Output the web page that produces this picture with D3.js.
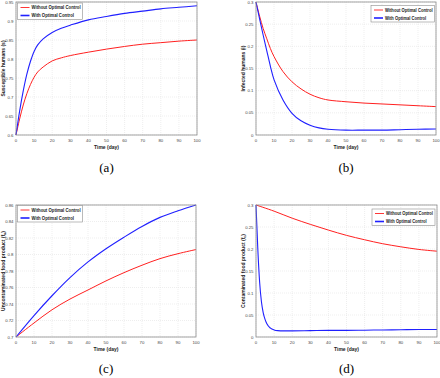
<!DOCTYPE html>
<html>
<head>
<meta charset="utf-8">
<script src="https://cdnjs.cloudflare.com/ajax/libs/d3/7.8.5/d3.min.js"></script>
<style>
  html, body { margin: 0; background: #fff; }
  svg { display: block; }
  .tick-label { font-family: "Liberation Sans", Arial, sans-serif; font-size: 4.3px; fill: #444; }
  .axis-label { font-family: "Liberation Sans", Arial, sans-serif; font-size: 5px; font-weight: bold; fill: #222; }
  .legend-text { font-family: "Liberation Sans", Arial, sans-serif; font-size: 5.2px; font-weight: bold; fill: #222; }
  .caption { font-family: "Liberation Serif", "Times New Roman", serif; font-size: 13px; fill: #000; }
</style>
</head>
<body>
<svg id="chart" width="440" height="378"></svg>
<script>
// --- data ---
var timeA = [0, 2, 4, 6, 8, 10, 12, 15, 20, 25, 30, 40, 50, 60, 70, 80, 90, 100];
var sNoCtrl = [0.6, 0.642, 0.679, 0.709, 0.733, 0.752, 0.766, 0.779, 0.795, 0.803, 0.809, 0.818, 0.826, 0.833, 0.839, 0.843, 0.847, 0.85];
var sCtrl   = [0.6, 0.663, 0.716, 0.76, 0.794, 0.82, 0.837, 0.853, 0.87, 0.881, 0.889, 0.903, 0.912, 0.92, 0.926, 0.932, 0.936, 0.94];

var timeB = [0, 2, 4, 6, 8, 10, 15, 20, 25, 30, 35, 40, 50, 60, 70, 80, 90, 100];
var iNoCtrl = [0.3, 0.268, 0.24, 0.217, 0.195, 0.177, 0.143, 0.12, 0.104, 0.092, 0.084, 0.079, 0.075, 0.072, 0.07, 0.068, 0.066, 0.064];
var iCtrl   = [0.3, 0.262, 0.225, 0.19, 0.155, 0.125, 0.079, 0.049, 0.032, 0.022, 0.016, 0.013, 0.011, 0.011, 0.011, 0.012, 0.013, 0.0135];

var timeC = [0, 10, 20, 30, 40, 50, 60, 70, 80, 90, 100];
var fuNoCtrl = [0.7, 0.717, 0.733, 0.746, 0.757, 0.768, 0.778, 0.787, 0.795, 0.801, 0.806];
var fuCtrl   = [0.7, 0.726, 0.75, 0.772, 0.791, 0.807, 0.821, 0.834, 0.845, 0.853, 0.86];

var timeD = [0, 10, 20, 30, 40, 50, 60, 70, 80, 90, 100];
var fcNoCtrl = [0.3, 0.286, 0.27, 0.256, 0.243, 0.231, 0.221, 0.212, 0.205, 0.199, 0.195];
var timeD2 = [0, 1, 2, 3, 4, 5, 6, 8, 10, 12, 15, 20, 30, 40, 50, 60, 70, 80, 90, 100];
var fcCtrl = [0.3, 0.2, 0.125, 0.08, 0.055, 0.04, 0.03, 0.02, 0.016, 0.0145, 0.014, 0.014, 0.0145, 0.015, 0.015, 0.0155, 0.016, 0.0165, 0.017, 0.017];

var xTicks = [0, 10, 20, 30, 40, 50, 60, 70, 80, 90, 100];
var legendNames = ["Without Optimal Control", "With Optimal Control"];

var svg = d3.select("#chart");

function zip(t, v) { return t.map(function (d, i) { return [d, v[i]]; }); }

function drawPanel(p) {
  var x = d3.scaleLinear().domain([0, 100]).range([p.left, p.right]);
  var y = d3.scaleLinear().domain(p.yDomain).range([p.bottom, p.top]);
  var g = svg.append("g");

  // grid
  g.selectAll(".gx").data(xTicks).enter().append("line")
    .attr("x1", function (d) { return x(d); }).attr("x2", function (d) { return x(d); })
    .attr("y1", p.top).attr("y2", p.bottom)
    .attr("stroke", "#dcdcdc").attr("stroke-width", 0.5).attr("stroke-dasharray", "1,1");
  g.selectAll(".gy").data(p.yTicks).enter().append("line")
    .attr("y1", function (d) { return y(d); }).attr("y2", function (d) { return y(d); })
    .attr("x1", p.left).attr("x2", p.right)
    .attr("stroke", "#dcdcdc").attr("stroke-width", 0.5).attr("stroke-dasharray", "1,1");

  // tick labels
  g.selectAll(".xl").data(xTicks).enter().append("text")
    .attr("class", "tick-label")
    .attr("x", function (d) { return x(d); }).attr("y", p.bottom + 7)
    .attr("text-anchor", "middle").text(function (d) { return d; });
  g.selectAll(".yl").data(p.yTicks).enter().append("text")
    .attr("class", "tick-label")
    .attr("x", p.left - 2.5).attr("y", function (d) { return y(d) + 1.5; })
    .attr("text-anchor", "end").text(function (d) { return String(+d.toFixed(2)); });

  // curves
  var line = d3.line().x(function (d) { return x(d[0]); }).y(function (d) { return y(d[1]); })
    .curve(p.steep ? d3.curveMonotoneX : d3.curveCatmullRom.alpha(0.5));
  g.append("path").datum(zip(p.t1, p.red)).attr("d", line.curve(d3.curveCatmullRom.alpha(0.5)))
    .attr("fill", "none").attr("stroke", "#ff2020").attr("stroke-width", 1);
  g.append("path").datum(zip(p.t2, p.blue))
    .attr("d", line.curve(p.steep ? d3.curveMonotoneX : d3.curveCatmullRom.alpha(0.5)))
    .attr("fill", "none").attr("stroke", "#2020ff").attr("stroke-width", 1.1);

  // frame
  g.append("rect").attr("x", p.left).attr("y", p.top)
    .attr("width", p.right - p.left).attr("height", p.bottom - p.top)
    .attr("fill", "none").attr("stroke", "#8c8c8c").attr("stroke-width", 0.8);

  // legend
  var lg = g.append("g").attr("transform", "translate(" + p.legend[0] + "," + p.legend[1] + ")");
  lg.append("rect").attr("width", p.legend[2]).attr("height", 16.5)
    .attr("fill", "#fff").attr("stroke", "#8c8c8c").attr("stroke-width", 0.6);
  var colors = ["#ff2020", "#2020ff"];
  var texts = [];
  legendNames.forEach(function (name, i) {
    lg.append("line").attr("x1", 3).attr("x2", 12)
      .attr("y1", 4.5 + i * 8).attr("y2", 4.5 + i * 8)
      .attr("stroke", colors[i]).attr("stroke-width", i === 0 ? 0.9 : 1.6);
    texts.push(lg.append("g").attr("transform", "translate(14," + (6.3 + i * 8) + ")")
      .append("text").attr("class", "legend-text").text(name));
  });
  // squeeze text horizontally so it fits the box like the original
  var w = texts[0].node().getComputedTextLength();
  var sx = Math.min(1, (p.legend[2] - 16) / w);
  texts.forEach(function (t) { t.attr("transform", "scale(" + sx + ",1)"); });

  // axis labels
  g.append("text").attr("class", "axis-label")
    .attr("x", (p.left + p.right) / 2).attr("y", p.bottom + 14)
    .attr("text-anchor", "middle").text("Time (day)");
  var yl = g.append("text").attr("class", "axis-label")
    .attr("transform", "translate(" + p.yLabelX + "," + ((p.top + p.bottom) / 2) + ") rotate(-90)")
    .attr("text-anchor", "middle");
  yl.append("tspan").text(p.yLabel);
  if (p.sub) {
    yl.append("tspan").attr("font-size", "3.6px").attr("dy", 1.3).text(p.sub);
    yl.append("tspan").attr("dy", -1.3).text(")");
  }

  // caption
  g.append("text").attr("class", "caption")
    .attr("x", (p.left + p.right) / 2).attr("y", p.captionY)
    .attr("text-anchor", "middle").text(p.caption);
}

drawPanel({ left: 16, right: 197, top: 2, bottom: 135, yDomain: [0.6, 0.95],
  yTicks: d3.range(0.6, 0.951, 0.05), t1: timeA, red: sNoCtrl, t2: timeA, blue: sCtrl,
  legend: [17.5, 3, 65], yLabel: "Susceptible humans (s)", yLabelX: 4.5,
  caption: "(a)", captionY: 172 });

drawPanel({ left: 256, right: 436, top: 2, bottom: 135, yDomain: [0, 0.3],
  yTicks: d3.range(0, 0.301, 0.05), t1: timeB, red: iNoCtrl, t2: timeB, blue: iCtrl,
  legend: [371, 5.5, 63.5], yLabel: "Infected humans (i)", yLabelX: 244.5,
  caption: "(b)", captionY: 172 });

drawPanel({ left: 16, right: 196, top: 205, bottom: 337, yDomain: [0.7, 0.86],
  yTicks: d3.range(0.7, 0.861, 0.02), t1: timeC, red: fuNoCtrl, t2: timeC, blue: fuCtrl,
  legend: [17.5, 205.5, 65], yLabel: "Uncontaminated food product (f", sub: "u", yLabelX: 4.5,
  caption: "(c)", captionY: 373 });

drawPanel({ left: 256, right: 437, top: 205, bottom: 337, yDomain: [0, 0.3],
  yTicks: d3.range(0, 0.301, 0.05), t1: timeD, red: fcNoCtrl, t2: timeD2, blue: fcCtrl, steep: true,
  legend: [372, 209, 63], yLabel: "Contaminated food product (f", sub: "c", yLabelX: 244.5,
  caption: "(d)", captionY: 373 });
</script>
</body>
</html>
